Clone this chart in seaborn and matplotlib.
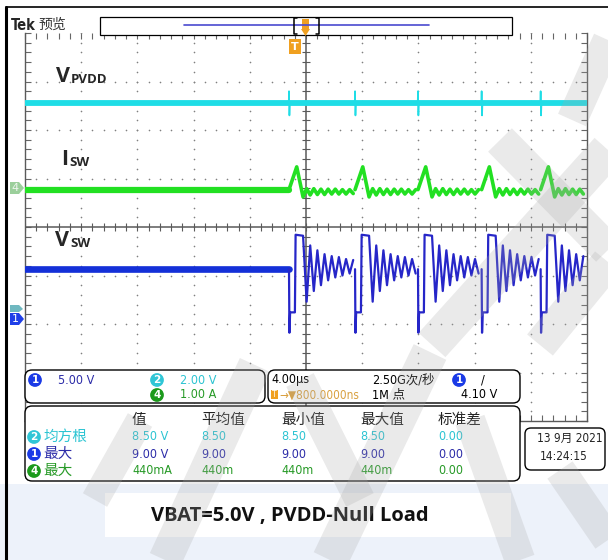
import numpy as np
import pandas as pd
import matplotlib
matplotlib.use('Agg')
import matplotlib.pyplot as plt
from matplotlib.patches import FancyBboxPatch, Rectangle, Polygon
import seaborn as sns

# ---- scope settings ----
T_DIV = 4.0        # us / div
CH1_SCALE = 5.0    # V / div   (V_SW, blue)
CH2_SCALE = 2.0    # V / div   (V_PVDD, cyan)
CH4_SCALE = 1.0    # A / div   (I_SW, green)
CH1_POS = -1.88    # ground marker position, div
CH2_POS = -1.70
CH4_POS = 0.80
TRIG_T = -0.8      # trigger point, us

# ---- waveform readings ----
edge_t = [-1.21, 3.49, 7.97, 12.50, 16.70]        # V_SW falling edges, us
vsw_idle = 5.05
vsw_event_t = [0.0, 0.03, 0.08, 0.42, 0.47, 1.00]  # relative to each edge
vsw_event_v = [5.05, -1.5, 0.6, 0.6, 8.6, 8.5]
ring_half = 0.255
vsw_ring = [1.7, 7.5, 2.8, 7.0, 3.4, 6.6, 3.9, 6.4, 4.2, 6.3, 4.4, 6.1, 4.6, 6.0, 5.4]

isw_idle = -0.03
isw_event_t = [0.0, 0.55, 1.00]
isw_event_v = [-0.03, 0.44, -0.18]
isw_ring = [-0.01, -0.14, -0.01, -0.13, -0.02, -0.13, -0.02, -0.12, -0.02, -0.12,
            -0.03, -0.12, -0.03, -0.11, -0.03]

pvdd_level = 8.5
pvdd_spike_t = [-0.02, 0.0, 0.03, 0.06]
pvdd_spike_v = [8.5, 9.0, 8.0, 8.5]

# measurement table
meas_head = ['值', '平均值', '最小值', '最大值', '标准差']
meas_rows = [
    ('2', '均方根', ['8.50 V', '8.50', '8.50', '8.50', '0.00']),
    ('1', '最大', ['9.00 V', '9.00', '9.00', '9.00', '0.00']),
    ('4', '最大', ['440mA', '440m', '440m', '440m', '0.00']),
]

C_BLUE = '#1430d8'
C_BLUE_T = '#2c2ca8'
C_CYAN = '#1fdde6'
C_CYAN_T = '#2cc4d2'
C_GREEN = '#22e022'
C_GREEN_T = '#279a27'
C_ORANGE = '#f0a020'


def build_trace(idle, ev_t, ev_v, ring, scale, pos):
    rows = []
    for i, e in enumerate(edge_t):
        nxt = edge_t[i + 1] if i + 1 < len(edge_t) else 20.0
        pts = [(e + a, b) for a, b in zip(ev_t, ev_v)]
        for k, v in enumerate(ring):
            t = e + ev_t[-1] + (k + 1) * ring_half
            if t >= nxt - 0.02:
                break
            pts.append((t, v))
        for t, v in pts:
            if t <= 20.0:
                rows.append({'cycle': i, 't': t, 'y': v / scale + pos})
    pre = pd.DataFrame({'cycle': [0, 0], 't': [-20.0, edge_t[0]],
                        'y': [idle / scale + pos] * 2})
    return pre, pd.DataFrame(rows)


sns.set_theme(style='white')
CJK = ['Noto Sans CJK SC', 'DejaVu Sans']
NARROW = ['DejaVu Sans', 'Noto Sans CJK SC']
plt.rcParams['font.family'] = NARROW

fig = plt.figure(figsize=(6.08, 5.6), dpi=100)
fig.patch.set_facecolor('white')

# background layer (pixel coords)
bg = fig.add_axes([0, 0, 1, 1], zorder=0)
bg.set_xlim(0, 608)
bg.set_ylim(560, 0)
bg.axis('off')
bg.add_patch(Rectangle((0, 484), 608, 76, fc='#edf2fa', ec='none'))

# ---- scope graticule ----
ax = fig.add_axes([25 / 608, 1 - 421 / 560, 562 / 608, 388 / 560], zorder=1)
ax.set_facecolor('white')
ax.set_xlim(-5 * T_DIV, 5 * T_DIV)
ax.set_ylim(-4, 4)
for s in ax.spines.values():
    s.set_color('#5a5a5a')
    s.set_linewidth(1.0)
ax.spines['top'].set_visible(False)
ax.set_xticks(np.arange(-20, 20.1, 4))
ax.set_yticks(np.arange(-4, 4.1, 1))
ax.set_xticks(np.arange(-20, 20.1, 0.8), minor=True)
ax.set_yticks(np.arange(-4, 4.1, 0.2), minor=True)
ax.tick_params(which='both', direction='in', length=4, width=0.8, color='#666',
               top=True, right=True, bottom=True, left=True,
               labelbottom=False, labelleft=False)

xm = np.arange(-20, 20.1, 0.8)
ym = np.arange(-4, 4.1, 0.2)
for gy in [-3, -2, -1, 1, 2, 3]:
    ax.scatter(xm, np.full_like(xm, gy), s=1.4, color='#808080', lw=0, zorder=1)
for gx in [-16, -12, -8, -4, 4, 8, 12, 16]:
    ax.scatter(np.full_like(ym, gx), ym, s=1.4, color='#808080', lw=0, zorder=1)
ax.axhline(0, color='#5a5a5a', lw=1.1, zorder=1)
ax.axvline(0, color='#5a5a5a', lw=1.1, zorder=1)
ax.plot(xm, np.zeros_like(xm), ls='none', marker='|', ms=6, mew=0.8, color='#5a5a5a', zorder=1)
ax.plot(np.zeros_like(ym), ym, ls='none', marker='_', ms=6, mew=0.8, color='#5a5a5a', zorder=1)

# ---- traces ----
# CH2 V_PVDD
pv = pd.DataFrame({'t': [-20.0, 20.0], 'y': [pvdd_level / CH2_SCALE + CH2_POS] * 2})
sns.lineplot(data=pv, x='t', y='y', ax=ax, color=C_CYAN, lw=4.2, estimator=None, zorder=3)
sp = pd.DataFrame([{'cycle': i, 't': e + a, 'y': b / CH2_SCALE + CH2_POS}
                   for i, e in enumerate(edge_t) for a, b in zip(pvdd_spike_t, pvdd_spike_v)])
sns.lineplot(data=sp, x='t', y='y', units='cycle', ax=ax, color=C_CYAN, lw=1.2,
             estimator=None, sort=False, zorder=3)

# CH4 I_SW
ipre, icyc = build_trace(isw_idle, isw_event_t, isw_event_v, isw_ring, CH4_SCALE, CH4_POS)
sns.lineplot(data=ipre, x='t', y='y', ax=ax, color=C_GREEN, lw=4.5, estimator=None, zorder=3)
sns.lineplot(data=icyc, x='t', y='y', units='cycle', ax=ax, color=C_GREEN, lw=2.6,
             estimator=None, sort=False, zorder=3)

# CH1 V_SW
vpre, vcyc = build_trace(vsw_idle, vsw_event_t, vsw_event_v, vsw_ring, CH1_SCALE, CH1_POS)
sns.lineplot(data=vpre, x='t', y='y', ax=ax, color=C_BLUE, lw=4.8, estimator=None, zorder=3)
sns.lineplot(data=vcyc, x='t', y='y', units='cycle', ax=ax, color='#2626c8', lw=1.6,
             estimator=None, sort=False, zorder=3)
ax.set_xlabel('')
ax.set_ylabel('')

# trigger marker
ax.text(TRIG_T, 3.72, 'T', ha='center', va='center', color='white', fontsize=8, fontweight='bold',
        bbox=dict(boxstyle='square,pad=0.2', fc=C_ORANGE, ec='none'), zorder=5)

# ---- overlay: labels, readouts, decorations ----
ov = fig.add_axes([0, 0, 1, 1], zorder=3)
ov.set_xlim(0, 608)
ov.set_ylim(560, 0)
ov.axis('off')
ov.patch.set_alpha(0)

# screenshot border
ov.plot([6, 6], [7, 560], color='black', lw=2.2)
ov.plot([6, 608], [7, 7], color='black', lw=1.2)

# top record bar
ov.text(11, 25, 'Tek', fontsize=10.5, fontweight='bold', va='center', family=['DejaVu Sans'],
        fontstretch='condensed')
ov.text(38, 25, '预览', fontsize=10, va='center', family=CJK, color='#333')
ov.add_patch(Rectangle((100, 17), 412, 18, fc='white', ec='black', lw=0.9))
ov.plot([184, 429], [25, 25], color='#4a4ad0', lw=1.2)
ov.plot([297, 294, 294, 297], [18, 18, 34, 34], color='black', lw=1.1)
ov.plot([316, 319, 319, 316], [18, 18, 34, 34], color='black', lw=1.1)
ov.add_patch(Rectangle((302, 19), 7, 10, fc=C_ORANGE, ec='none'))
ov.add_patch(Polygon([[301, 29], [310, 29], [305.5, 36]], fc=C_ORANGE, ec='none'))


def chan_label(x, y, main, sub):
    ov.text(x, y, main, fontsize=15.5, fontweight='bold', va='baseline', family=['Open Sans'])
    ov.text(x + (15 if main == 'V' else 8), y + 1, sub, fontsize=9.5, fontweight='bold',
            va='baseline', family=['Open Sans'])


chan_label(56, 82, 'V', 'PVDD')
chan_label(61, 165, 'I', 'SW')
chan_label(55, 246, 'V', 'SW')

# ground markers on the left edge
ov.add_patch(Polygon([[10, 182], [19, 182], [24, 188], [19, 194], [10, 194]], fc='#9bcf9b', ec='none'))
ov.text(15, 188, '4', color='#eef5ee', fontsize=8, ha='center', va='center')
ov.add_patch(Polygon([[10, 305], [19, 305], [23, 309], [19, 312], [10, 312]], fc='#6fb8c0', ec='none'))
ov.add_patch(Polygon([[10, 313], [19, 313], [24, 319], [19, 325], [10, 325]], fc='#1f3fe8', ec='none'))
ov.text(15, 319, '1', color='white', fontsize=8, ha='center', va='center')


def box(x0, y0, x1, y1, r=7):
    ov.add_patch(FancyBboxPatch((x0, y0), x1 - x0, y1 - y0,
                                boxstyle=f'round,pad=0,rounding_size={r}',
                                fc='white', ec='black', lw=1.0, zorder=2))


def badge(x, y, n, fc):
    ov.text(x, y, n, color='white', fontsize=7.5, fontweight='bold', ha='center', va='center',
            family=['DejaVu Sans'], zorder=4,
            bbox=dict(boxstyle='circle,pad=0.18', fc=fc, ec='none'))


def txt(x, y, s, color='black', size=9, **kw):
    kw.setdefault('fontstretch', 'condensed')
    ov.text(x, y, s, color=color, fontsize=size, va='center', zorder=4, **kw)


box(25, 370, 265, 403)
box(268, 370, 520, 403)
box(25, 406, 520, 481)
box(525, 428, 605, 470, r=6)

badge(35, 380, '1', '#1a3ae6')
txt(58, 380, '5.00 V', C_BLUE_T)
badge(157, 380, '2', '#30c6d6')
txt(180, 380, '2.00 V', C_CYAN_T)
badge(157, 395, '4', '#1c9a1c')
txt(180, 395, '1.00 A', C_GREEN_T)

txt(271, 380, '4.00μs', 'black')
txt(372, 380, '2.50G次/秒', 'black')
badge(459, 380, '1', '#1a3ae6')
txt(481, 380, '/', 'black')
ov.add_patch(Rectangle((271, 390), 7, 9, fc=C_ORANGE, ec='none', zorder=3))
ov.text(274.5, 394.5, 'T', color='white', fontsize=5.5, ha='center', va='center', zorder=4)
txt(279, 395, '→▼800.0000ns', '#d9a040', size=8.5)
txt(372, 395, '1M 点', 'black')
txt(461, 395, '4.10 V', 'black')

col_x = [132, 201, 281, 360, 438]
for cx, h in zip(col_x, meas_head):
    txt(cx, 420, h, '#222', size=10.5, family=CJK)
row_y = [437, 454, 471]
row_fc = ['#30c6d6', '#1a3ae6', '#1c9a1c']
row_tc = [C_CYAN_T, C_BLUE_T, C_GREEN_T]
for (n, lab, vals), ry, fc, tc in zip(meas_rows, row_y, row_fc, row_tc):
    badge(34, ry, n, fc)
    txt(43, ry, lab, tc, size=10.5, family=CJK)
    for cx, v in zip(col_x, vals):
        txt(cx, ry, v, tc)

txt(537, 438, '13 9月 2021', '#222', size=8.5)
txt(540, 456, '14:24:15', '#222', size=8.5)

# caption
ov.add_patch(Rectangle((105, 493), 406, 44, fc='white', ec='none', zorder=2))
ov.text(290, 516, 'VBAT=5.0V , PVDD-Null Load', fontsize=14.5, fontweight='bold',
        ha='center', va='center', color='#111', family=['Open Sans'], zorder=4)

# watermark strokes
strokes = [
    ((608, 40), (572, 120), 22),
    ((608, 150), (432, 345), 26),
    ((500, 140), (608, 250), 24),
    ((608, 262), (540, 345), 24),
    ((430, 352), (330, 560), 26),
    ((255, 365), (165, 560), 24),
    ((300, 380), (360, 500), 22),
    ((95, 500), (140, 420), 20),
    ((470, 420), (520, 560), 22),
    ((560, 470), (608, 540), 22),
]
for (x0, y0), (x1, y1), w in strokes:
    ov.plot([x0, x1], [y0, y1], color='#a8a8a8', lw=w, alpha=0.24,
            solid_capstyle='butt', zorder=6)

fig.savefig('out.png', dpi=100)
